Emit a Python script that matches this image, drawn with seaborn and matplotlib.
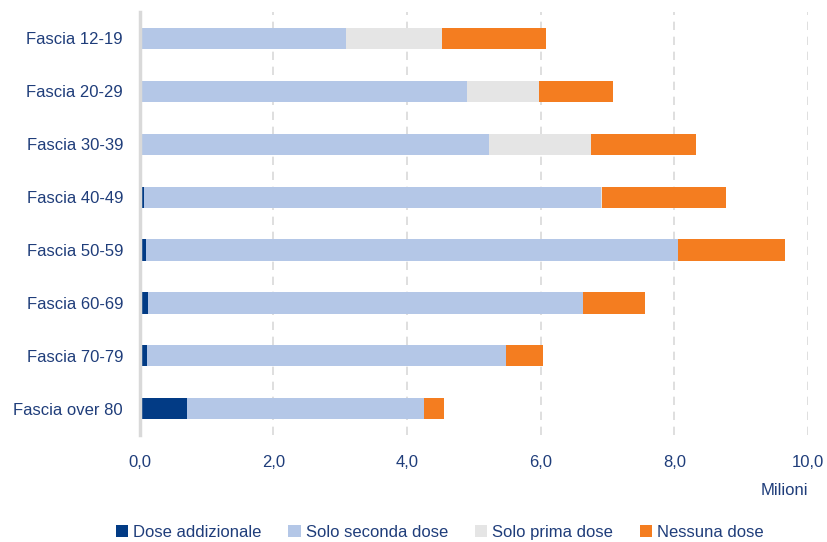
import matplotlib
matplotlib.use("Agg")
import matplotlib.pyplot as plt
import seaborn as sns
import numpy as np
import pandas as pd
from matplotlib.patches import Patch

categories = ["Fascia 12-19", "Fascia 20-29", "Fascia 30-39", "Fascia 40-49",
              "Fascia 50-59", "Fascia 60-69", "Fascia 70-79", "Fascia over 80"]
dose_addizionale = [0.00, 0.01, 0.03, 0.06, 0.09, 0.13, 0.11, 0.70]
solo_seconda = [3.08, 4.89, 5.19, 6.84, 7.97, 6.50, 5.37, 3.56]
solo_prima = [1.45, 1.07, 1.53, 0.01, 0.00, 0.00, 0.00, 0.00]
nessuna = [1.55, 1.11, 1.58, 1.87, 1.60, 0.93, 0.55, 0.29]
series_names = ["Dose addizionale", "Solo seconda dose", "Solo prima dose", "Nessuna dose"]
xticks = [0, 2, 4, 6, 8, 10]
xtick_labels = ["0,0", "2,0", "4,0", "6,0", "8,0", "10,0"]

colors = ["#023b85", "#b4c7e7", "#e5e5e5", "#f47d20"]
text_color = "#1f3d7a"

sns.set_theme(style="white")
plt.rcParams["font.family"] = ["Liberation Sans Narrow", "Liberation Sans", "DejaVu Sans"]

series = [dose_addizionale, solo_seconda, solo_prima, nessuna]
cum = np.cumsum(np.array(series), axis=0)

fig = plt.figure(figsize=(8.27, 5.42), dpi=100)
ax = fig.add_axes([0.169, 0.197, 0.808, 0.781])

for i in range(3, -1, -1):
    df = pd.DataFrame({"cat": categories, "val": cum[i]})
    sns.barplot(data=df, y="cat", x="val", orient="h", color=colors[i],
                width=0.4, ax=ax, linewidth=0, saturation=1, order=categories)

ax.set_xlim(0, 10)
ax.set_xticks(xticks)
ax.set_xticklabels(xtick_labels)
ax.set_xlabel("")
ax.set_ylabel("")
for x in xticks[1:]:
    ax.axvline(x, color="#d9d9d9", linestyle=(0, (5, 4)), linewidth=1.2, zorder=0)
for s in ["top", "right", "bottom"]:
    ax.spines[s].set_visible(False)
ax.spines["left"].set_color("#d9d9d9")
ax.spines["left"].set_linewidth(2.5)
ax.tick_params(axis="both", length=0, labelsize=12, colors=text_color)
ax.tick_params(axis="x", pad=14)
ax.tick_params(axis="y", pad=12)

fig.text(0.949, 0.095, "Milioni", ha="center", va="center", fontsize=12, color=text_color)

handles = [Patch(facecolor=c, edgecolor="none") for c in colors]
leg = fig.legend(handles, series_names, loc="center", bbox_to_anchor=(0.532, 0.018),
                 ncol=4, frameon=False, fontsize=12, handlelength=0.75, handleheight=0.75,
                 handletextpad=0.3, columnspacing=1.6)
for t in leg.get_texts():
    t.set_color(text_color)

fig.savefig("out.png", dpi=100)
